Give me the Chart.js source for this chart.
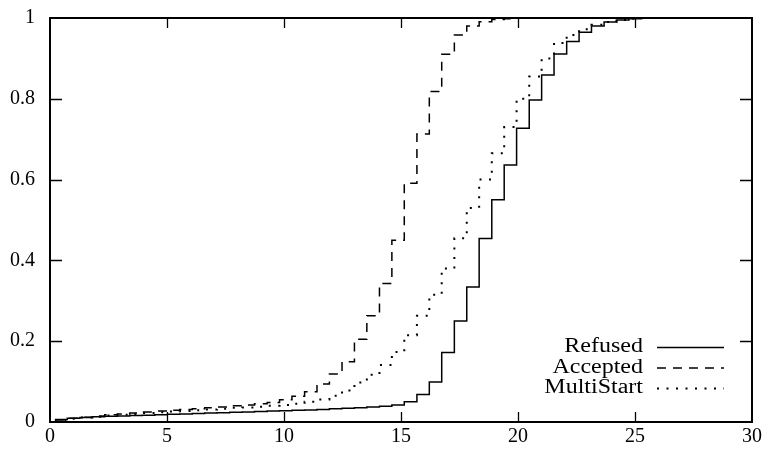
<!DOCTYPE html>
<html>
<head>
<meta charset="utf-8">
<script src="https://cdn.jsdelivr.net/npm/chart.js@4/dist/chart.umd.min.js"></script>
<style>
    html, body { margin: 0; padding: 0; background: #fff; }
    canvas { display: block; }
</style>
</head>
<body>
<canvas id="cdfChart" width="768" height="451"></canvas>
<script>
// -------------------------------------------------------------------------- Data

const xSteps = [
    0.21, 0.74, 1.28, 1.81, 2.34, 2.88, 3.41, 3.94, 4.48, 5.01,
    5.54, 6.08, 6.61, 7.14, 7.68, 8.21, 8.74, 9.28, 9.81, 10.34,
    10.88, 11.41, 11.94, 12.48, 13.01, 13.54, 14.08, 14.61, 15.14, 15.68,
    16.21, 16.74, 17.28, 17.81, 18.34, 18.88, 19.41, 19.94, 20.48, 21.01,
    21.54, 22.08, 22.61, 23.14, 23.68, 24.21, 24.74, 25.28
]

const refused = [
    0.006, 0.009, 0.011, 0.013, 0.014, 0.015, 0.016, 0.017, 0.018, 0.019,
    0.020, 0.021, 0.022, 0.023, 0.024, 0.025, 0.026, 0.027, 0.028, 0.029,
    0.030, 0.031, 0.033, 0.034, 0.035, 0.037, 0.039, 0.042, 0.050, 0.068,
    0.099, 0.172, 0.250, 0.334, 0.454, 0.550, 0.636, 0.727, 0.797, 0.859,
    0.911, 0.942, 0.965, 0.980, 0.990, 0.995, 0.998, 1.000
]

const accepted = [
    0.005, 0.009, 0.012, 0.015, 0.018, 0.020, 0.022, 0.025, 0.027, 0.029,
    0.031, 0.033, 0.035, 0.037, 0.040, 0.042, 0.045, 0.048, 0.055, 0.064,
    0.075, 0.094, 0.119, 0.149, 0.205, 0.263, 0.343, 0.450, 0.591, 0.713,
    0.818, 0.910, 0.958, 0.980, 0.991, 0.996, 0.998, 1.000, 1.000, 1.000,
    1.000, 1.000, 1.000, 1.000, 1.000, 1.000, 1.000, 1.000
]

const multiStart = [
    0.005, 0.008, 0.011, 0.013, 0.016, 0.018, 0.020, 0.022, 0.024, 0.026,
    0.027, 0.029, 0.031, 0.033, 0.035, 0.036, 0.038, 0.040, 0.042, 0.045,
    0.050, 0.056, 0.065, 0.078, 0.098, 0.117, 0.141, 0.173, 0.215, 0.263,
    0.315, 0.380, 0.455, 0.530, 0.600, 0.665, 0.730, 0.800, 0.855, 0.900,
    0.938, 0.958, 0.972, 0.983, 0.990, 0.995, 0.998, 1.000
]

const xTicks = [0, 5, 10, 15, 20, 25, 30]
const yTicks = [0, 0.2, 0.4, 0.6, 0.8, 1]

const ink = '#000'
const serif = "'Liberation Serif', 'DejaVu Serif', serif"

const toPoints = ys => xSteps.map((x, i) => ({ x: x, y: ys[i] }))

// -------------------------------------------------------------------------- Plugins

// gnuplot style box with inward ticks on all four sides
const framePlugin = {
    id: 'frame',
    afterDatasetsDraw(chart) {
        const { ctx, chartArea: a, scales: { x, y } } = chart
        ctx.save()
        ctx.strokeStyle = ink
        ctx.lineWidth = 1.3
        ctx.beginPath()
        x.ticks.forEach(t => {
            if (t.value <= x.min || t.value >= x.max) return
            const px = Math.round(x.getPixelForValue(t.value)) + 0.5
            ctx.moveTo(px, a.bottom)
            ctx.lineTo(px, a.bottom - 10)
            ctx.moveTo(px, a.top)
            ctx.lineTo(px, a.top + 10)
        })
        y.ticks.forEach(t => {
            if (t.value <= y.min || t.value >= y.max) return
            const py = Math.round(y.getPixelForValue(t.value)) + 0.5
            ctx.moveTo(a.left, py)
            ctx.lineTo(a.left + 12, py)
            ctx.moveTo(a.right, py)
            ctx.lineTo(a.right - 12, py)
        })
        ctx.stroke()
        ctx.lineWidth = 2
        ctx.strokeRect(a.left, a.top, a.right - a.left, a.bottom - a.top)
        ctx.restore()
    }
}

// legend in the lower right: label, then a line sample
// (text stretched a little, the original font is wider than Times)
const keyPlugin = {
    id: 'key',
    afterDraw(chart) {
        const ctx = chart.ctx
        const textRight = 643
        const sampleLeft = 657
        const sampleRight = 724
        const stretch = 1.2
        let rowY = 347
        ctx.save()
        chart.data.datasets.forEach(ds => {
            ctx.save()
            ctx.font = '20px ' + serif
            ctx.fillStyle = ink
            ctx.textAlign = 'right'
            ctx.textBaseline = 'middle'
            ctx.translate(textRight, rowY)
            ctx.scale(stretch, 1)
            ctx.fillText(ds.label, 0, 0)
            ctx.restore()

            ctx.strokeStyle = ds.borderColor
            ctx.lineWidth = ds.borderWidth
            ctx.lineCap = 'butt'
            ctx.setLineDash(ds.borderDash || [])
            ctx.beginPath()
            ctx.moveTo(sampleLeft, rowY + 0.5)
            ctx.lineTo(sampleRight, rowY + 0.5)
            ctx.stroke()
            rowY += 20.5
        })
        ctx.restore()
    }
}

// -------------------------------------------------------------------------- Chart Config

const lineStyle = {
    borderColor: ink,
    pointRadius: 0,
    stepped: true,
    fill: false
}

const dataCdf = {
    datasets: [{
        ...lineStyle,
        label: 'Refused',
        data: toPoints(refused),
        borderWidth: 1.5
    }, {
        ...lineStyle,
        label: 'Accepted',
        data: toPoints(accepted),
        borderWidth: 1.5,
        borderDash: [9, 7]
    }, {
        ...lineStyle,
        label: 'MultiStart',
        data: toPoints(multiStart),
        borderWidth: 2,
        borderDash: [2, 7.5]
    }]
}

const configCdf = {
    type: 'line',
    data: dataCdf,
    options: {
        responsive: false,
        animation: false,
        layout: {
            padding: { top: 18, right: 16, left: 0, bottom: 0 }
        },
        plugins: {
            legend: { display: false },
            tooltip: { enabled: false }
        },
        scales: {
            x: {
                type: 'linear',
                min: 0,
                max: 30,
                afterBuildTicks: scale => { scale.ticks = xTicks.map(v => ({ value: v })) },
                afterFit: scale => {
                    scale.height = 29
                    scale.paddingLeft = 0
                    scale.paddingRight = 0
                },
                grid: { display: false, drawTicks: false },
                border: { display: false },
                ticks: {
                    color: ink,
                    padding: 3,
                    maxRotation: 0,
                    font: { family: serif, size: 20 },
                    callback: v => String(v)
                }
            },
            y: {
                type: 'linear',
                min: 0,
                max: 1,
                afterBuildTicks: scale => { scale.ticks = yTicks.map(v => ({ value: v })) },
                afterFit: scale => {
                    scale.width = 50
                    scale.paddingTop = 0
                    scale.paddingBottom = 0
                },
                grid: { display: false, drawTicks: false },
                border: { display: false },
                ticks: {
                    color: ink,
                    padding: 15,
                    font: { family: serif, size: 20 },
                    callback: v => String(v)
                }
            }
        }
    },
    plugins: [framePlugin, keyPlugin]
}

// -------------------------------------------------------------------------- Render Chart

let cdfChart = new Chart(
    document.getElementById('cdfChart'),
    configCdf
)
</script>
</body>
</html>
